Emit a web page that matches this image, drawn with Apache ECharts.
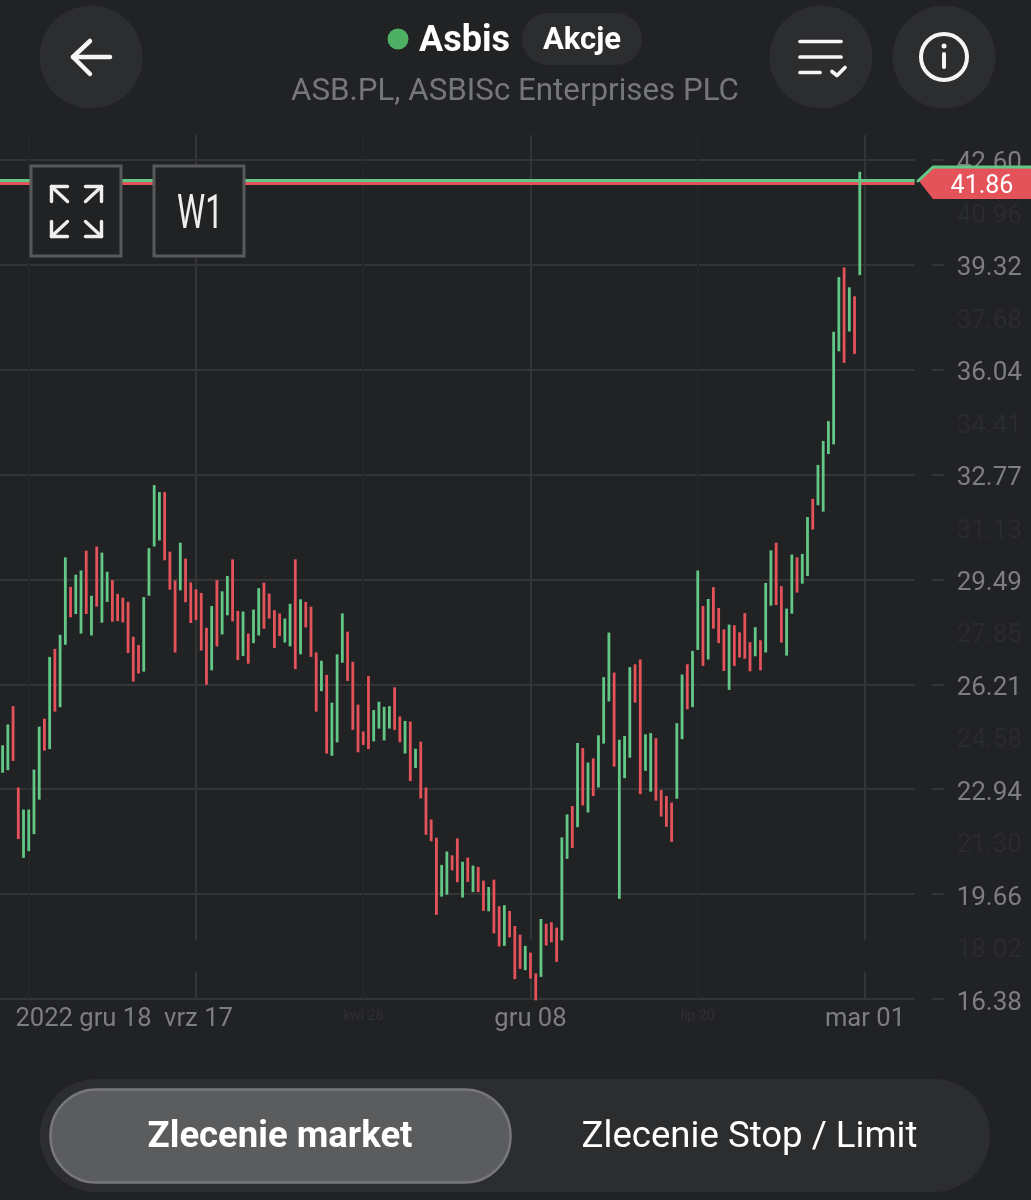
<!DOCTYPE html>
<html><head><meta charset="utf-8">
<style>html,body{margin:0;padding:0;background:#212224}#c{width:1031px;height:1200px}</style>
<script src="https://cdn.jsdelivr.net/npm/echarts@6/dist/echarts.min.js"></script>
</head><body><div id="c"></div>
<script>
// direction of each weekly bar: g = up, r = down
const directions = ("ggrrg gggrg rggrg grgrg grrrr rrggg grrrg rrrrr grggr rgrgg rrrrg grgrr rgrgg"
 + "grrrr rgggg rrgrg rrrrg grrgr grrgr rgrrr grrgr rrggr grgrg"
 + "ggrgg grrgg rrrrg grggr grrrg rrrrg rggrr ggrgg rgggg grgrg").replace(/\s/g,"").split("");
const highs = [24.31,24.96,25.53,22.99,22.30,22.30,23.55,24.89,25.14,27.07,27.32,27.76,30.18,29.26,29.64,29.77,30.39,28.98,30.52,30.33,29.73,29.47,29.04,28.92,28.79,27.70,27.44,28.94,30.47,32.44,32.22,32.22,30.36,29.46,30.64,30.14,29.40,29.18,29.07,27.98,28.66,29.47,29.12,29.60,30.12,28.51,28.49,27.80,28.55,29.22,29.39,29.05,28.53,28.43,28.27,28.73,30.12,28.87,28.79,28.64,27.21,26.95,26.51,25.64,27.15,
 28.43,27.86,26.92,25.58,24.74,26.47,25.41,25.67,25.51,25.53,26.12,25.21,25.07,25.05,24.20,24.42,22.99,21.99,21.42,20.57,20.99,20.87,21.40,20.67,20.80,20.55,20.51,20.08,19.88,20.11,19.28,19.31,19.13,18.66,18.39,18.04,17.83,17.18,18.88,18.73,18.78,18.61,21.43,22.15,22.41,24.38,24.22,23.77,23.90,24.62,
 26.44,27.83,26.58,24.48,24.60,26.75,26.84,26.99,24.65,24.69,24.53,22.91,22.72,22.52,25.00,26.52,26.84,27.26,29.77,28.66,28.88,29.25,28.60,27.93,28.08,28.06,27.84,28.44,27.53,28.00,27.59,29.38,30.40,30.64,29.28,28.58,30.27,30.18,30.29,31.44,32.01,33.07,33.82,34.44,37.23,38.94,39.24,38.62,38.34,42.23];
const lows = [23.45,23.53,23.82,21.38,20.79,21.00,21.53,22.61,24.14,24.19,25.36,25.50,27.45,28.31,28.41,27.80,28.41,27.74,28.64,28.14,28.79,28.17,28.19,28.15,27.19,26.30,26.55,26.61,28.98,30.52,30.71,30.09,29.17,27.21,29.15,28.78,28.13,28.22,27.27,26.20,26.65,27.40,27.77,28.37,28.18,26.97,27.10,26.86,27.50,27.74,27.95,28.27,27.35,27.72,27.52,27.40,26.69,27.15,27.99,27.07,25.36,26.00,24.05,23.98,24.40,
 26.89,26.32,24.79,24.09,24.32,24.19,24.43,24.83,24.46,24.83,24.79,24.40,24.05,23.19,23.60,22.65,21.51,21.31,19.01,19.58,19.64,20.40,20.03,19.55,20.04,19.72,19.72,19.13,19.12,18.43,18.02,18.04,18.31,17.00,17.32,17.28,17.02,16.34,17.07,18.05,18.15,17.54,18.21,20.76,21.10,21.75,22.43,22.21,22.72,22.99,
 24.36,25.68,23.64,19.51,23.28,23.92,25.64,22.78,23.51,22.86,22.58,22.08,21.76,21.29,22.64,24.50,25.43,25.50,27.29,26.79,26.99,27.95,27.50,26.63,26.04,26.79,27.05,27.01,26.62,27.09,26.65,27.21,28.67,28.69,27.52,27.11,28.42,29.08,29.36,29.60,31.05,31.81,31.61,33.41,33.71,36.62,36.26,37.24,36.54,39.00];
const majorTicks = [16.38,19.66,22.94,26.21,29.49,32.77,36.04,39.32,42.60];
const minorTicks = [18.02,21.30,24.58,27.85,31.13,34.41,37.68,40.96];
const xLabelIndex = [15,37,69,101,133,165];
const xLabelText = ["2022 gru 18","vrz 17","kwi 28","gru 08","lip 20","mar 01"];
const faintLabels = ["kwi 28","lip 20"];
const shiftedLabels = ["2022 gru 18","vrz 17"];
const gridIndex = [5,37,69,101,133,165];
const askPrice = 41.97, bidPrice = 41.86;

const BG="#212224", PANEL="#2c2d2f", GREEN="#63c885", RED="#e4525a";
const categories = Array.from({length:175},(_,i)=>{const k=xLabelIndex.indexOf(i);return k>=0?xLabelText[k]:"w"+i;});
const bars = highs.map((h,i)=>[i,lows[i],h,directions[i]==="g"?1:0]);

const line=(pts,w,c)=>({type:'polyline',z:20,shape:{points:pts},style:{stroke:c||'#f5f5f5',lineWidth:w,lineCap:'round',lineJoin:'round',fill:null}});
const txt=(x,y,t,size,color,weight,extra)=>Object.assign({type:'text',z:20,x,y,style:{text:t,font:`${weight||400} ${size}px Roboto`,fill:color,textAlign:'center',textVerticalAlign:'middle'}},extra||{});
const rect=(x,y,w,h,r,fill,stroke,lw,z)=>({type:'rect',z:z||15,shape:{x,y,width:w,height:h,r},style:{fill,stroke:stroke||null,lineWidth:lw||0}});
const circle=(cx,cy,r,fill,stroke,lw)=>({type:'circle',z:15,shape:{cx,cy,r},style:{fill,stroke:stroke||null,lineWidth:lw||0}});
const corner=(cx,cy,dx,dy)=>[line([[cx,cy],[cx+dx,cy+dy]],3.4,'#eeeeee'),line([[cx,cy],[cx,cy+dy]],3.4,'#eeeeee'),line([[cx,cy],[cx+dx,cy]],3.4,'#eeeeee')];

const graphic=[
 // gaps in the vertical grid lines
 rect(192,940,7,32,0,BG,null,0,1), rect(526,940,7,32,0,BG,null,0,1), rect(861,940,7,32,0,BG,null,0,1),
 // header
 circle(91,57,51.5,PANEL), circle(821,57,51.5,PANEL), circle(944,57,51.5,PANEL),
 line([[110,57],[73,57]],4.5), line([[90,41],[73,57],[90,74]],4.5),
 line([[800,41.5],[841,41.5]],3.7), line([[800,57],[841,57]],3.7), line([[800,72.5],[820,72.5]],3.7),
 line([[832,71.5],[837,75.5],[845,67.5]],3.7),
 circle(944,57,23,'none','#f5f5f5',4), line([[944,54],[944,67]],4), circle(944,46,2.5,'#f5f5f5'),
 circle(398,39,10.5,'#4caf64'),
 txt(464.5,42,'Asbis',36,'#ffffff',700),
 rect(522,13,120,52,26,PANEL),
 txt(582,41,'Akcje',31,'#ffffff',700),
 txt(515,92.5,'ASB.PL, ASBISc Enterprises PLC',31.3,'#76777a',400),
 // overlay buttons
 rect(31,166,90,90,0,BG,'#58595b',3), rect(154,166,90,90,0,BG,'#58595b',3),
 ...corner(51.5,186.5,16,15), ...corner(101.5,186.5,-16,15), ...corner(51.5,236.5,16,-15), ...corner(101.5,236.5,-16,-15),
 txt(200,216,'W1',48,'#eeeeee',400,{scaleX:0.66}),
 // price tag
 {type:'polygon',z:16,shape:{points:[[919,181],[933,167],[1031,167],[1031,199],[933,199]]},style:{fill:RED}},
 line([[918,181],[933,167],[1032,167]],3,GREEN),
 txt(982,187,'41.86',25,'#ffffff',400),
 // bottom switch
 rect(40,1079,950,113,56,PANEL),
 rect(50.5,1089.5,460,93,46,'#5b5c5e','#77787a',2.5),
 txt(280,1138,'Zlecenie market',36.5,'#ffffff',700),
 txt(749.5,1138,'Zlecenie Stop / Limit',36.6,'#ffffff',400)
];

const yLabel=(ticks,color)=>({customValues:ticks,margin:25,verticalAlign:'top',lineHeight:8,fontFamily:'Roboto',fontSize:26,color,formatter:(v)=>v.toFixed(2)});

const chart=echarts.init(document.getElementById('c'),null,{renderer:'canvas',width:1031,height:1200});
chart.setOption({
 backgroundColor:BG, animation:false,
 textStyle:{fontFamily:'Roboto'},
 grid:{left:-0.6,width:915.25,top:135,height:864},
 xAxis:{type:'category',data:categories,boundaryGap:true,
  axisLine:{show:false},axisTick:{show:false},
  axisLabel:{interval:(i)=>xLabelIndex.includes(i),margin:8,
    formatter:(v)=>faintLabels.includes(v)?`{f|${v}}`:shiftedLabels.includes(v)?`{a|${v}}`:`{m|${v}}`,
    rich:{m:{fontFamily:'Roboto',fontSize:25.6,color:'#7d7e80'},
          a:{fontFamily:'Roboto',fontSize:25.6,color:'#7d7e80',padding:[0,0,0,5]},
          f:{fontFamily:'Roboto',fontSize:14,color:'#2f3032',padding:[2,0,0,0]}}},
  splitLine:{show:true,alignWithLabel:true,interval:(i)=>gridIndex.includes(i),lineStyle:{color:['#252628','#343537'],width:2}}},
 yAxis:[
  {type:'value',position:'right',min:16.38,max:43.38,offset:17,
   axisLine:{show:false},
   axisTick:{show:true,length:13,customValues:majorTicks,lineStyle:{color:'#343537',width:2}},
   axisLabel:yLabel(majorTicks,'#7d7e80'),
   splitLine:{show:true,lineStyle:{color:'#343537',width:2}}},
  {type:'value',position:'right',min:16.38,max:43.38,offset:17,
   axisLine:{show:false},axisTick:{show:false},
   axisLabel:yLabel(minorTicks,'#2a2b2d'),
   splitLine:{show:false}}
 ],
 series:[{type:'custom',data:bars,z:5,clip:false,encode:{x:0,y:[1,2]},
  renderItem:(p,api)=>{
    const a=api.coord([api.value(0),api.value(2)]), b=api.coord([api.value(0),api.value(1)]);
    return {type:'rect',shape:{x:a[0]-1.4,y:a[1],width:2.8,height:b[1]-a[1]},style:{fill:api.value(3)?GREEN:RED}};
  },
  markLine:{symbol:'none',silent:true,animation:false,label:{show:false},precision:2,
   data:[{yAxis:bidPrice,lineStyle:{color:RED,width:3,type:'solid'}},{yAxis:askPrice,lineStyle:{color:GREEN,width:3,type:'solid'}}]}}],
 graphic
});
</script></body></html>
